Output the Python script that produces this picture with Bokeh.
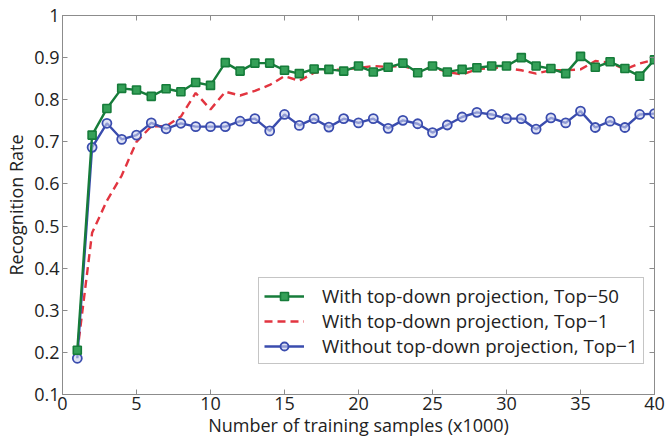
from bokeh.plotting import figure
from bokeh.models import (Range1d, FixedTicker, LinearAxis, Legend, LegendItem,
                          CustomJSTickFormatter)
from bokeh.embed import file_html
from bokeh.resources import INLINE

# Training set size in thousands of samples
samples = list(range(1, 41))

# Recognition rate with top-down projection, top-50 candidates
top50_proj = [0.205, 0.716, 0.779, 0.827, 0.823, 0.808, 0.826, 0.819, 0.841, 0.834,
              0.888, 0.868, 0.887, 0.887, 0.870, 0.862, 0.873, 0.872, 0.868, 0.880,
              0.866, 0.877, 0.887, 0.864, 0.880, 0.866, 0.872, 0.876, 0.880, 0.880,
              0.900, 0.880, 0.874, 0.862, 0.903, 0.877, 0.890, 0.874, 0.856, 0.895]

# Recognition rate with top-down projection, top-1 candidate
top1_proj = [0.200, 0.484, 0.560, 0.620, 0.700, 0.737, 0.737, 0.760, 0.816, 0.777,
             0.819, 0.810, 0.821, 0.835, 0.856, 0.845, 0.864, 0.870, 0.872, 0.875,
             0.880, 0.878, 0.880, 0.870, 0.876, 0.866, 0.860, 0.872, 0.876, 0.875,
             0.870, 0.862, 0.870, 0.870, 0.872, 0.892, 0.888, 0.872, 0.886, 0.895]

# Recognition rate without top-down projection, top-1 candidate
top1_noproj = [0.186, 0.687, 0.744, 0.706, 0.716, 0.745, 0.731, 0.744, 0.736, 0.736,
               0.736, 0.749, 0.755, 0.726, 0.765, 0.739, 0.755, 0.735, 0.755, 0.745,
               0.755, 0.732, 0.751, 0.743, 0.722, 0.740, 0.759, 0.770, 0.765, 0.755,
               0.755, 0.730, 0.757, 0.745, 0.773, 0.734, 0.749, 0.734, 0.765, 0.767]

x_ticks = [0, 5, 10, 15, 20, 25, 30, 35, 40]
y_ticks = [0.1, 0.2, 0.3, 0.4, 0.5, 0.6, 0.7, 0.8, 0.9, 1.0]

GREEN = "#167c3a"
RED = "#e23540"
BLUE = "#3a4cae"
FRAME = "#8c8c8c"
TEXT = "#222222"
FONT = "Open Sans"
SIZE = "18px"

p = figure(width=668, height=439, output_backend="svg", toolbar_location=None,
           x_range=Range1d(0, 40), y_range=Range1d(0.1, 1.0),
           min_border_left=62, min_border_right=14, min_border_top=15,
           min_border_bottom=45, x_axis_type=None, y_axis_type=None)
p.background_fill_color = "white"
p.border_fill_color = "white"
p.outline_line_color = FRAME
p.xgrid.visible = False
p.ygrid.visible = False

y_fmt = CustomJSTickFormatter(code="return tick.toFixed(1).replace(/\\.0$/, '');")
no_labels = CustomJSTickFormatter(code="return '';")


def style_axis(ax, show_labels):
    ax.axis_line_color = FRAME
    ax.axis_line_width = 1
    ax.major_tick_line_color = FRAME
    ax.major_tick_in = 5
    ax.major_tick_out = 0
    ax.minor_tick_line_color = None
    ax.major_label_text_font = FONT
    ax.major_label_text_color = TEXT
    ax.major_label_text_font_size = SIZE
    ax.axis_label_text_font = FONT
    ax.axis_label_text_font_style = "normal"
    ax.axis_label_text_color = TEXT
    ax.axis_label_text_font_size = SIZE
    ax.axis_label_standoff = 0
    ax.major_label_standoff = 2 if show_labels else 0


bottom = LinearAxis(ticker=FixedTicker(ticks=x_ticks),
                    axis_label="Number of training samples (x1000)")
style_axis(bottom, True)
top = LinearAxis(ticker=FixedTicker(ticks=x_ticks), formatter=no_labels)
style_axis(top, False)
left = LinearAxis(ticker=FixedTicker(ticks=y_ticks), formatter=y_fmt,
                  axis_label="Recognition Rate")
style_axis(left, True)
left.major_label_standoff = 3
left.axis_label_standoff = 3
right = LinearAxis(ticker=FixedTicker(ticks=y_ticks), formatter=no_labels)
style_axis(right, False)

p.add_layout(bottom, "below")
p.add_layout(top, "above")
p.add_layout(left, "left")
p.add_layout(right, "right")

# Series: dashed top-1 first, then the two marker series on top
red_line = p.line(samples, top1_proj, line_color=RED, line_width=2.4, line_dash="8 5")

blue_line = p.line(samples, top1_noproj, line_color=BLUE, line_width=2.4)
blue_pts = p.scatter(samples, top1_noproj, marker="circle", size=9,
                     line_color=BLUE, line_width=1.8, fill_color="#c9d0ee",
                     fill_alpha=0.6)

green_line = p.line(samples, top50_proj, line_color=GREEN, line_width=2.4)
green_pts = p.scatter(samples, top50_proj, marker="square", size=8,
                      line_color=GREEN, line_width=1.6, fill_color="#35a058")

legend = Legend(items=[
    LegendItem(label="With top-down projection, Top\u221250", renderers=[green_line, green_pts]),
    LegendItem(label="With top-down projection, Top\u22121", renderers=[red_line]),
    LegendItem(label="Without top-down projection, Top\u22121", renderers=[blue_line, blue_pts]),
], location=(196, 30))
legend.border_line_color = FRAME
legend.border_line_width = 1
legend.background_fill_color = "white"
legend.background_fill_alpha = 1
legend.label_text_font = FONT
legend.label_text_font_size = "18.7px"
legend.label_text_color = TEXT
legend.glyph_width = 40
legend.glyph_height = 20
legend.label_height = 20
legend.label_standoff = 18
legend.spacing = 0
legend.padding = 5
legend.margin = 0
p.add_layout(legend, "center")

open("out.html", "w").write(file_html(p, INLINE))
